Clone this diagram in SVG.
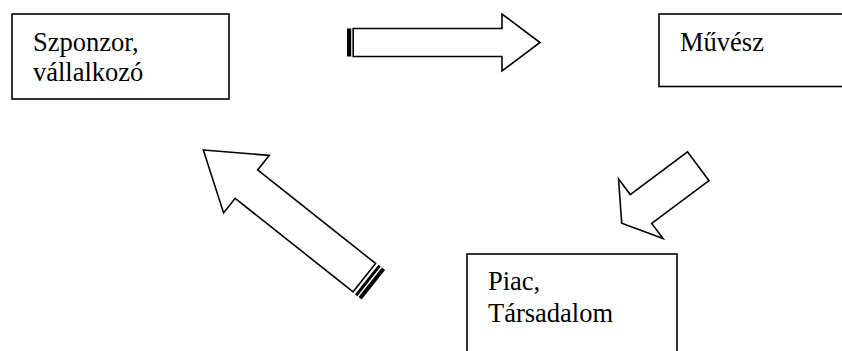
<svg xmlns="http://www.w3.org/2000/svg" width="842" height="351" viewBox="0 0 842 351">
  <style>
    .box { fill: #ffffff; stroke: #000000; stroke-width: 1.6; }
    .arr { fill: #ffffff; stroke: #000000; stroke-width: 1.6; stroke-linejoin: miter; }
    .stripe { fill: #000000; stroke: none; }
    text { font-family: 'Liberation Serif', 'Times New Roman', Tinos, 'DejaVu Serif', serif; font-size: 26.5px; fill: #000000; }
  </style>
  <rect width="842" height="351" fill="#ffffff"/>

  <g id="node-szponzor">
    <rect class="box" x="12" y="14" width="217" height="85"/>
    <text x="33" y="50.5" font-family="Liberation Serif, serif">Szponzor,</text>
    <text x="33" y="80.5" font-family="Liberation Serif, serif">vállalkozó</text>
  </g>

  <g id="node-muvesz">
    <rect class="box" x="659" y="14" width="200" height="72.5"/>
    <text x="680" y="50.5" font-family="Liberation Serif, serif">Művész</text>
  </g>

  <g id="node-piac">
    <rect class="box" x="467" y="254" width="210" height="120"/>
    <text x="488" y="290" font-family="Liberation Serif, serif">Piac,</text>
    <text x="488" y="321.5" font-family="Liberation Serif, serif">Társadalom</text>
  </g>

  <g id="connectors">
    <g id="arrow-szponzor-muvesz">
      <rect class="stripe" x="347" y="28.5" width="4.2" height="28"/>
      <polygon class="arr" points="353.2,28.5 502,28.5 502,14 540,42.5 502,71 502,56.5 353.2,56.5"/>
    </g>
    <g id="arrow-muvesz-piac" transform="translate(621.7,223.3) rotate(-36.7)">
      <polygon class="arr" points="0,0 24,-37.5 24,-18 95.5,-18 95.5,18 24,18 24,37"/>
    </g>
    <g id="arrow-piac-szponzor" transform="translate(203.3,150) rotate(38.4)">
      <polygon class="arr" points="0,0 55,-36.7 55,-18.1 205.5,-18.1 205.5,18.1 55,18.1 55,36.7"/>
      <rect class="stripe" x="208.5" y="-18.9" width="3" height="37.8"/>
      <rect class="stripe" x="213" y="-18.9" width="4" height="37.8"/>
    </g>
  </g>
</svg>
